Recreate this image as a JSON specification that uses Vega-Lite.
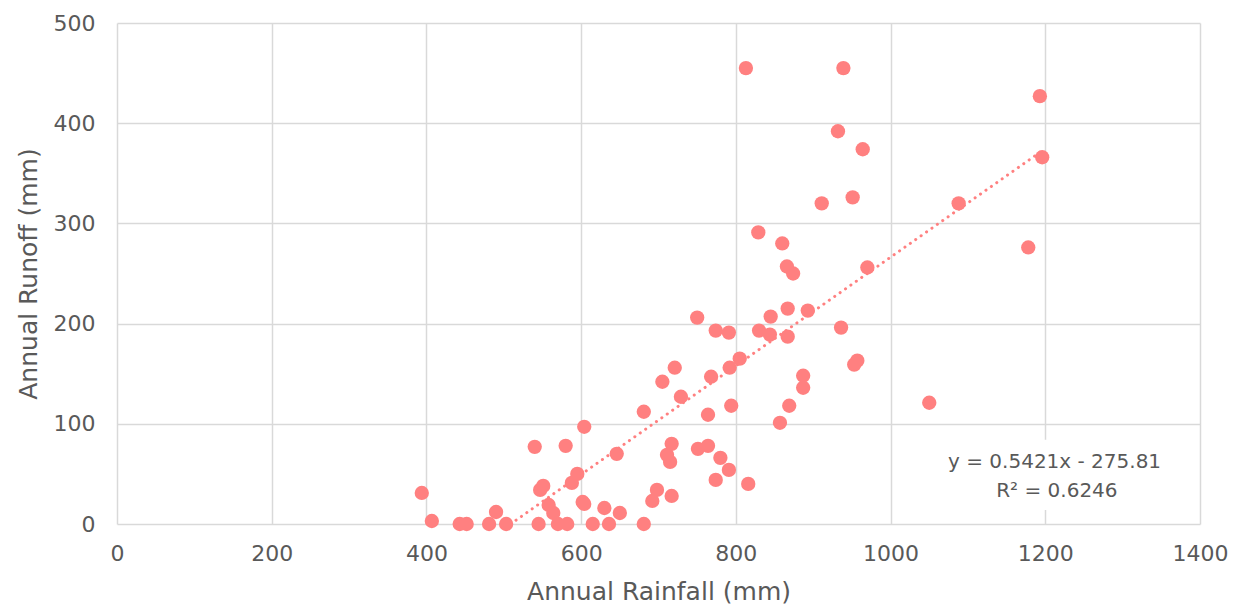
{
  "$schema": "https://vega.github.io/schema/vega-lite/v6.json",
  "autosize": {"type": "none"},
  "padding": {"left": 117, "top": 23, "right": 36, "bottom": 84},
  "width": 1083,
  "height": 501,
  "background": "white",
  "config": {
    "view": {"stroke": null},
    "font": "DejaVu Sans",
    "axis": {
      "labelFont": "DejaVu Sans",
      "titleFont": "DejaVu Sans",
      "labelColor": "#595959",
      "titleColor": "#595959",
      "labelFontSize": 22,
      "titleFontSize": 25,
      "titleFontWeight": "normal",
      "gridColor": "#d9d9d9",
      "gridWidth": 1.5,
      "gridOpacity": 1,
      "domain": false,
      "ticks": false,
      "labelFlush": false,
      "format": "d"
    }
  },
  "datasets": {
    "obs": [
      {"rainfall": 394, "runoff": 31},
      {"rainfall": 407, "runoff": 3},
      {"rainfall": 443, "runoff": 0},
      {"rainfall": 452, "runoff": 0},
      {"rainfall": 481, "runoff": 0},
      {"rainfall": 490, "runoff": 12},
      {"rainfall": 503, "runoff": 0},
      {"rainfall": 540, "runoff": 77},
      {"rainfall": 580, "runoff": 78},
      {"rainfall": 604, "runoff": 97},
      {"rainfall": 646, "runoff": 70},
      {"rainfall": 681, "runoff": 112},
      {"rainfall": 717, "runoff": 80},
      {"rainfall": 711, "runoff": 69},
      {"rainfall": 715, "runoff": 62},
      {"rainfall": 751, "runoff": 75},
      {"rainfall": 595, "runoff": 50},
      {"rainfall": 588, "runoff": 41},
      {"rainfall": 551, "runoff": 38},
      {"rainfall": 547, "runoff": 34},
      {"rainfall": 558, "runoff": 19},
      {"rainfall": 564, "runoff": 11},
      {"rainfall": 545, "runoff": 0},
      {"rainfall": 570, "runoff": 0},
      {"rainfall": 582, "runoff": 0},
      {"rainfall": 602, "runoff": 22},
      {"rainfall": 604, "runoff": 20},
      {"rainfall": 630, "runoff": 16},
      {"rainfall": 650, "runoff": 11},
      {"rainfall": 615, "runoff": 0},
      {"rainfall": 636, "runoff": 0},
      {"rainfall": 681, "runoff": 0},
      {"rainfall": 698, "runoff": 34},
      {"rainfall": 692, "runoff": 23},
      {"rainfall": 717, "runoff": 28},
      {"rainfall": 705, "runoff": 142},
      {"rainfall": 721, "runoff": 156},
      {"rainfall": 729, "runoff": 127},
      {"rainfall": 750, "runoff": 206},
      {"rainfall": 774, "runoff": 193},
      {"rainfall": 791, "runoff": 191},
      {"rainfall": 830, "runoff": 193},
      {"rainfall": 844, "runoff": 189},
      {"rainfall": 845, "runoff": 207},
      {"rainfall": 867, "runoff": 215},
      {"rainfall": 893, "runoff": 213},
      {"rainfall": 867, "runoff": 187},
      {"rainfall": 936, "runoff": 196},
      {"rainfall": 957, "runoff": 163},
      {"rainfall": 953, "runoff": 159},
      {"rainfall": 887, "runoff": 148},
      {"rainfall": 887, "runoff": 136},
      {"rainfall": 869, "runoff": 118},
      {"rainfall": 857, "runoff": 101},
      {"rainfall": 1050, "runoff": 121},
      {"rainfall": 805, "runoff": 165},
      {"rainfall": 792, "runoff": 156},
      {"rainfall": 768, "runoff": 147},
      {"rainfall": 764, "runoff": 109},
      {"rainfall": 794, "runoff": 118},
      {"rainfall": 764, "runoff": 78},
      {"rainfall": 780, "runoff": 66},
      {"rainfall": 791, "runoff": 54},
      {"rainfall": 774, "runoff": 44},
      {"rainfall": 816, "runoff": 40},
      {"rainfall": 939, "runoff": 455},
      {"rainfall": 813, "runoff": 455},
      {"rainfall": 932, "runoff": 392},
      {"rainfall": 964, "runoff": 374},
      {"rainfall": 911, "runoff": 320},
      {"rainfall": 951, "runoff": 326},
      {"rainfall": 1088, "runoff": 320},
      {"rainfall": 1193, "runoff": 427},
      {"rainfall": 1196, "runoff": 366},
      {"rainfall": 1178, "runoff": 276},
      {"rainfall": 860, "runoff": 280},
      {"rainfall": 866, "runoff": 257},
      {"rainfall": 874, "runoff": 250},
      {"rainfall": 970, "runoff": 256},
      {"rainfall": 829, "runoff": 291}
    ],
    "trend": [
      {"rainfall": 508.8, "runoff": 0},
      {"rainfall": 1196, "runoff": 372.5}
    ],
    "note": [
      {"x": 1212, "y": 62, "label": "y = 0.5421x - 275.81"},
      {"x": 1215, "y": 33, "label": "R² = 0.6246"}
    ],
    "box": [
      {"x1": 1068, "x2": 1358, "y1": 84, "y2": 14}
    ]
  },
  "layer": [
    {
      "data": {"name": "trend"},
      "mark": {"type": "line", "color": "#ff8080", "strokeWidth": 3, "strokeDash": [0.1, 6.5], "strokeCap": "round"},
      "encoding": {
        "x": {"field": "rainfall", "type": "quantitative", "scale": {"domain": [0, 1400]}},
        "y": {"field": "runoff", "type": "quantitative", "scale": {"domain": [0, 500]}}
      }
    },
    {
      "data": {"name": "obs"},
      "mark": {"type": "circle", "color": "#ff8080", "opacity": 1, "size": 205},
      "encoding": {
        "x": {"field": "rainfall", "type": "quantitative", "title": "Annual Rainfall (mm)",
              "scale": {"domain": [0, 1400], "nice": false},
              "axis": {"values": [0, 200, 400, 600, 800, 1000, 1200, 1400], "labelPadding": 19, "titlePadding": 15}},
        "y": {"field": "runoff", "type": "quantitative", "title": "Annual Runoff (mm)",
              "scale": {"domain": [0, 500], "nice": false},
              "axis": {"values": [0, 100, 200, 300, 400, 500], "labelPadding": 22, "titlePadding": 12}}
      }
    },
    {
      "data": {"name": "box"},
      "mark": {"type": "rect", "fill": "white", "strokeWidth": 0},
      "encoding": {
        "x": {"field": "x1", "type": "quantitative"},
        "x2": {"field": "x2"},
        "y": {"field": "y1", "type": "quantitative"},
        "y2": {"field": "y2"}
      }
    },
    {
      "data": {"name": "note"},
      "mark": {"type": "text", "font": "DejaVu Sans", "fontSize": 20, "color": "#595959", "align": "center", "baseline": "middle"},
      "encoding": {
        "x": {"field": "x", "type": "quantitative"},
        "y": {"field": "y", "type": "quantitative"},
        "text": {"field": "label"}
      }
    }
  ]
}
